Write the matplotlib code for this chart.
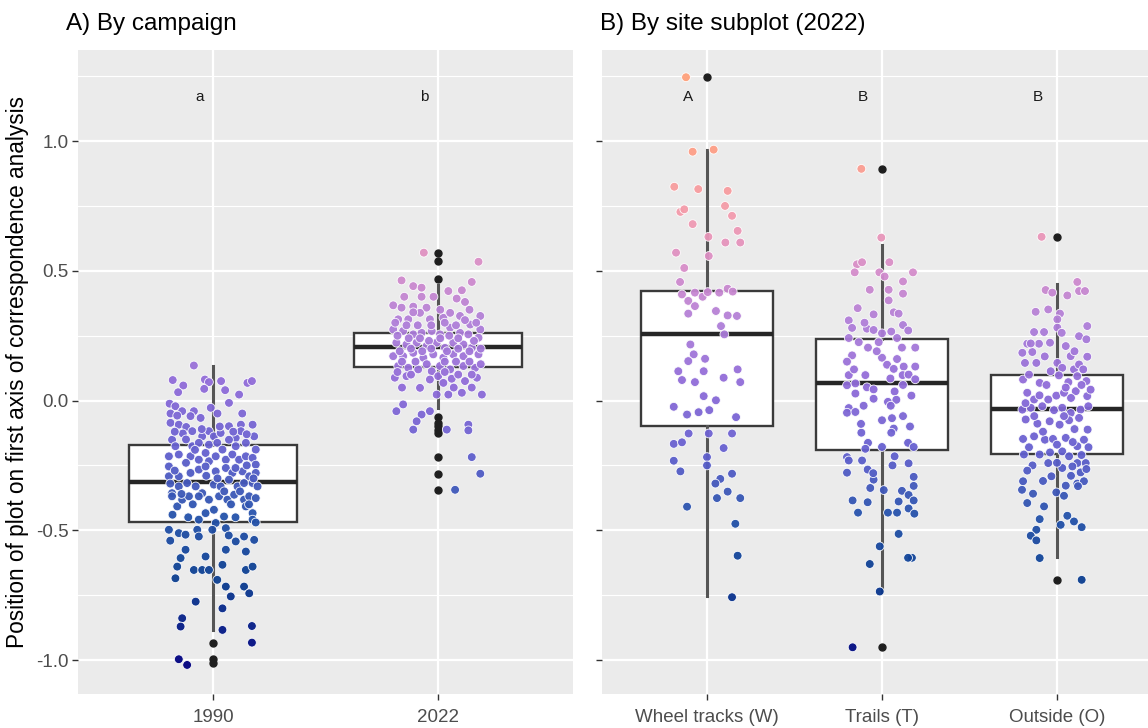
import numpy as np
import matplotlib.pyplot as plt
from matplotlib.colors import LinearSegmentedColormap, Normalize

plt.rcParams['font.family'] = ['Liberation Sans', 'DejaVu Sans']

# ---- values ----
campaigns = ['1990', '2022']
campaign_letters = ['a', 'b']
sites = ['Wheel tracks (W)', 'Trails (T)', 'Outside (O)']
site_letters = ['A', 'B', 'B']

# box statistics
campaign_q1 = [-0.469, 0.131]
campaign_med = [-0.315, 0.208]
campaign_q3 = [-0.173, 0.262]
campaign_whislo = [-0.884, -0.03]
campaign_whishi = [0.133, 0.445]
campaign_outliers = [[-0.933, -0.995, -1.013],
                     [0.570, 0.537, 0.468, -0.062, -0.085, -0.100, -0.115,
                      -0.127, -0.218, -0.282, -0.344]]

site_q1 = [-0.099, -0.191, -0.205]
site_med = [0.255, 0.066, -0.032]
site_q3 = [0.422, 0.239, 0.100]
site_whislo = [-0.755, -0.736, -0.604]
site_whishi = [0.967, 0.601, 0.448]
site_outliers = [[1.246], [0.893, -0.951], [0.631, -0.691]]

# plot scores (CA axis 1) and their jitter offsets, per group
val_1990 = [0.135, 0.079, 0.058, 0.032, 0.081, 0.071, 0.075, 0.045, 0.040, -0.009,
            0.023, 0.068, 0.075, -0.012, -0.022, -0.041, -0.050, -0.058, -0.086, -0.093,
            -0.102, -0.041, -0.067, -0.028, -0.127, -0.118, -0.138, -0.118, -0.138, -0.125,
            -0.099, -0.144, -0.093, -0.118, -0.093, -0.138, -0.151, -0.176, -0.176, -0.163,
            -0.170, -0.163, -0.151, -0.176, -0.163, -0.189, -0.215, -0.254, -0.208, -0.215,
            -0.228, -0.202, -0.234, -0.215, -0.189, -0.228, -0.208, -0.228, -0.215, -0.221,
            -0.247, -0.292, -0.292, -0.279, -0.266, -0.254, -0.273, -0.260, -0.279, -0.273,
            -0.292, -0.279, -0.357, -0.331, -0.318, -0.331, -0.357, -0.324, -0.331, -0.305,
            -0.331, -0.318, -0.318, -0.331, -0.369, -0.408, -0.382, -0.369, -0.369, -0.382,
            -0.369, -0.382, -0.363, -0.382, -0.369, -0.376, -0.434, -0.421, -0.447, -0.472,
            -0.459, -0.408, -0.434, -0.459, -0.498, -0.511, -0.517, -0.498, -0.524, -0.498,
            -0.492, -0.543, -0.524, -0.537, -0.575, -0.575, -0.582, -0.607, -0.601, -0.640,
            -0.653, -0.653, -0.653, -0.633, -0.653, -0.640, -0.685, -0.691, -0.717, -0.717,
            -0.743, -0.775, -0.755, -0.801, -0.839, -0.871, -0.884, -0.869, -0.933, -0.997,
            -1.019,
            -0.27, -0.24, -0.19, -0.29, -0.30, -0.35, -0.26, -0.25, -0.30, -0.32,
            -0.36, -0.40, -0.40, -0.35, -0.40, -0.15, -0.11, -0.10, -0.12, -0.13,
            -0.12, -0.06, -0.05, -0.05, -0.44, -0.45, -0.45, -0.54, -0.52, -0.47]
jit_1990 = [-0.085, -0.179, -0.132, -0.155, -0.036, -0.018, 0.036, -0.039, 0.054, 0.071,
            0.116, 0.153, 0.173, -0.193, -0.167, -0.137, -0.189, -0.159, -0.189, -0.152,
            -0.119, -0.085, -0.055, -0.010, -0.134, -0.092, -0.048, -0.018, 0.004, 0.034,
            0.071, 0.101, 0.124, 0.124, 0.176, 0.183, -0.182, -0.167, -0.092, -0.063,
            -0.018, 0.019, 0.071, 0.101, 0.146, 0.190, -0.196, -0.196, -0.152, -0.100,
            -0.063, -0.033, -0.018, 0.012, 0.042, 0.057, 0.086, 0.116, 0.146, 0.176,
            0.190, -0.196, -0.152, -0.100, -0.063, -0.033, 0.012, 0.057, 0.086, 0.131,
            0.161, 0.190, -0.182, -0.152, -0.115, -0.077, -0.048, 0.004, 0.034, 0.071,
            0.109, 0.138, 0.176, 0.198, -0.182, -0.159, -0.137, -0.107, -0.063, -0.018,
            0.027, 0.064, 0.094, 0.138, 0.161, 0.190, -0.033, 0.004, 0.049, 0.012,
            -0.063, 0.146, 0.176, 0.176, -0.196, -0.152, -0.122, -0.070, -0.063, -0.003,
            0.057, 0.101, 0.138, 0.183, -0.122, 0.057, 0.146, -0.144, -0.033, -0.159,
            -0.085, -0.048, -0.018, 0.042, 0.146, 0.176, -0.167, 0.019, 0.057, 0.138,
            0.161, -0.077, 0.079, 0.042, -0.137, -0.144, 0.042, 0.173, 0.173, -0.152,
            -0.115,
            -0.17, -0.12, -0.08, -0.03, 0.02, 0.05, 0.10, 0.15, 0.18, -0.19,
            -0.14, -0.09, 0.08, 0.12, 0.16, -0.12, -0.05, 0.03, 0.09, 0.15,
            -0.17, -0.10, 0.02, 0.13, -0.18, -0.11, 0.10, -0.19, 0.07, 0.19]

val_2022 = [0.570, 0.535, 0.463, 0.457, 0.441, 0.435, 0.422, 0.425, 0.393, 0.400,
            0.367, 0.358, 0.362, 0.358, 0.319, 0.338, 0.326, 0.326, 0.313, 0.313,
            0.338, 0.313, 0.293, 0.274, 0.274, 0.268, 0.255, 0.261, 0.268, 0.255,
            0.281, 0.261, 0.255, 0.242, 0.223, 0.216, 0.223, 0.210, 0.223, 0.203,
            0.223, 0.216, 0.203, 0.171, 0.171, 0.184, 0.165, 0.178, 0.165, 0.178,
            0.171, 0.178, 0.133, 0.126, 0.120, 0.113, 0.133, 0.120, 0.133, 0.126,
            0.088, 0.094, 0.081, 0.094, 0.084, 0.075, 0.088, 0.049, 0.068, 0.023,
            0.023, 0.030, 0.023, -0.015, -0.041, -0.041, -0.054, -0.080, -0.112, -0.112,
            -0.093, -0.115, -0.218, -0.282, -0.344,
            0.25, 0.24, 0.24, 0.23, 0.24, 0.25, 0.24, 0.23, 0.19, 0.20,
            0.19, 0.20, 0.19, 0.20, 0.19, 0.20, 0.15, 0.15, 0.14, 0.15,
            0.15, 0.15, 0.14, 0.30, 0.29, 0.29, 0.29, 0.30, 0.29, 0.31,
            0.30, 0.11, 0.10, 0.11, 0.10, 0.10, 0.05, 0.05, 0.05, 0.34,
            0.35, 0.35, 0.40, 0.38, 0.40]
jit_2022 = [-0.063, 0.180, -0.162, 0.150, -0.110, -0.073, 0.046, 0.106, 0.083, -0.073,
            -0.199, -0.162, -0.110, -0.051, 0.024, 0.054, 0.098, 0.188, -0.177, -0.132,
            -0.080, -0.036, 0.143, 0.188, -0.199, -0.155, -0.110, -0.073, -0.028, 0.009,
            0.054, 0.098, 0.135, 0.180, -0.185, -0.140, -0.095, -0.051, -0.006, 0.031,
            0.068, 0.113, 0.150, -0.199, -0.155, -0.110, -0.065, -0.021, 0.024, 0.068,
            0.113, 0.180, -0.177, -0.132, -0.088, -0.028, 0.009, 0.054, 0.113, 0.165,
            -0.192, -0.140, -0.036, 0.001, 0.061, 0.120, 0.173, -0.080, 0.024, -0.006,
            0.046, 0.106, 0.195, -0.155, -0.185, -0.036, -0.073, -0.095, -0.110, 0.039,
            0.135, 0.135, 0.150, 0.188, 0.076,
            -0.18, -0.13, -0.08, -0.04, 0.01, 0.05, 0.09, 0.16, -0.17, -0.12,
            -0.07, -0.03, 0.04, 0.09, 0.14, 0.19, -0.16, -0.10, -0.05, 0.03,
            0.08, 0.14, 0.19, -0.19, -0.14, -0.09, -0.03, 0.03, 0.08, 0.12,
            0.17, -0.18, -0.12, 0.03, 0.09, 0.15, -0.16, 0.07, 0.15, -0.11,
            0.01, 0.14, -0.15, 0.12, -0.02]

val_W = [1.246, 0.959, 0.967, 0.824, 0.815, 0.808, 0.727, 0.737, 0.750, 0.712,
         0.680, 0.631, 0.654, 0.609, 0.609, 0.570, 0.557, 0.511, 0.457, 0.409,
         0.416, 0.400, 0.418, 0.416, 0.431, 0.420, 0.384, 0.364, 0.335, 0.345,
         0.328, 0.326, 0.287, 0.255, 0.216, 0.178, 0.152, 0.161, 0.113, 0.113,
         0.120, 0.079, 0.071, 0.088, 0.071, 0.017, 0.001, -0.024, -0.054, -0.045,
         -0.037, -0.064, -0.127, -0.127, -0.127, -0.167, -0.161, -0.183, -0.232, -0.218,
         -0.250, -0.273, -0.282, -0.302, -0.320, -0.351, -0.376, -0.376, -0.409, -0.475,
         -0.598, -0.758]
jit_W = [-0.120, -0.082, 0.038, -0.187, -0.050, 0.118, -0.152, -0.130, 0.103, 0.143,
         -0.082, 0.008, 0.175, 0.105, 0.190, -0.177, 0.010, -0.130, -0.154, -0.143,
         -0.069, -0.025, 0.004, 0.070, 0.118, 0.147, -0.107, -0.069, -0.107, 0.051,
         0.118, 0.171, 0.080, 0.099, -0.095, -0.076, -0.107, -0.011, -0.164, -0.019,
         0.175, -0.143, -0.069, 0.095, 0.190, -0.019, 0.051, -0.190, -0.114, -0.048,
         0.013, 0.166, -0.105, 0.010, 0.143, -0.190, -0.143, 0.095, -0.190, 0.000,
         0.000, -0.152, 0.143, 0.076, 0.048, 0.118, 0.057, 0.190, -0.114, 0.162,
         0.175, 0.143]

val_T = [0.893, 0.628, 0.525, 0.533, 0.494, 0.494, 0.533, 0.478, 0.494, 0.427,
         0.427, 0.459, 0.386, 0.412, 0.356, 0.332, 0.340, 0.335, 0.309, 0.280,
         0.277, 0.272, 0.259, 0.266, 0.291, 0.241, 0.225, 0.204, 0.225, 0.241,
         0.204, 0.204, 0.174, 0.150, 0.165, 0.160, 0.138, 0.122, 0.131, 0.131,
         0.098, 0.098, 0.085, 0.098, 0.100, 0.082, 0.059, 0.066, 0.051, 0.043,
         0.035, 0.027, 0.019, 0.007, -0.005, 0.003, -0.020, -0.029, -0.047, -0.044,
         -0.076, -0.068, -0.060, -0.108, -0.124, -0.124, -0.163, -0.186, -0.179, -0.215,
         -0.163, -0.179, -0.218, -0.231, -0.231, -0.242, -0.278, -0.266, -0.294, -0.305,
         -0.329, -0.337, -0.345, -0.348, -0.364, -0.385, -0.392, -0.389, -0.385, -0.432,
         -0.432, -0.432, -0.416, -0.436, -0.514, -0.562, -0.606, -0.606, -0.630, -0.736,
         -0.951,
         0.30, 0.27, 0.19, 0.06, 0.12, -0.02, -0.09, -0.10, -0.28, -0.25]
jit_T = [-0.118, -0.004, -0.143, -0.114, -0.156, -0.015, 0.042, 0.015, 0.177, -0.070,
         0.038, 0.120, 0.038, 0.120, -0.139, -0.048, 0.067, 0.095, -0.190, -0.171,
         -0.086, -0.048, 0.000, 0.053, 0.120, -0.190, -0.133, -0.080, -0.019, 0.086,
         0.114, 0.190, -0.171, -0.200, 0.000, 0.086, 0.029, 0.067, 0.124, 0.190,
         -0.190, -0.095, 0.048, 0.118, 0.152, 0.190, -0.200, -0.152, -0.086, -0.048,
         0.072, -0.152, 0.168, -0.048, 0.034, 0.082, -0.105, -0.190, -0.200, -0.152,
         0.000, 0.057, 0.120, 0.067, 0.053, -0.118, -0.080, -0.095, 0.000, 0.072,
         0.149, 0.181, -0.200, -0.190, -0.114, 0.152, -0.200, -0.082, 0.181, -0.048,
         0.181, -0.067, 0.010, 0.114, 0.152, -0.168, -0.082, 0.095, 0.181, -0.137,
         0.034, 0.086, 0.152, 0.185, 0.095, -0.013, 0.171, 0.149, -0.070, -0.013,
         -0.168,
         -0.10, 0.15, -0.03, 0.12, -0.16, 0.05, -0.12, 0.16, -0.05, 0.06]

val_O = [0.631, 0.457, 0.426, 0.416, 0.405, 0.422, 0.422, 0.342, 0.351, 0.335,
         0.313, 0.287, 0.264, 0.264, 0.281, 0.261, 0.248, 0.236, 0.219, 0.219,
         0.223, 0.184, 0.187, 0.145, 0.145, 0.171, 0.169, 0.145, 0.113, 0.126,
         0.120, 0.139, 0.081, 0.068, 0.097, 0.071, 0.094, 0.075, 0.030, 0.004,
         0.004, 0.019, 0.030, 0.036, 0.017, 0.042, -0.035, -0.028, -0.022, -0.037,
         -0.028, -0.048, -0.035, -0.022, -0.073, -0.089, -0.080, -0.093, -0.076, -0.067,
         -0.112, -0.148, -0.138, -0.151, -0.148, -0.144, -0.176, -0.151, -0.208, -0.208,
         -0.241, -0.196, -0.215, -0.241, -0.241, -0.292, -0.260, -0.254, -0.277, -0.264,
         -0.311, -0.344, -0.359, -0.354, -0.328, -0.367, -0.320, -0.311, -0.395, -0.408,
         -0.457, -0.479, -0.444, -0.466, -0.488, -0.498, -0.521, -0.539, -0.607, -0.691,
         0.22, 0.21, 0.19, 0.17, 0.12, 0.10, 0.06, 0.05, 0.06, 0.02,
         0.01, -0.01, -0.06, -0.06, -0.11, -0.12, -0.17, -0.16, -0.18, -0.20,
         -0.21, -0.25, -0.29, -0.31, -0.33, -0.27, -0.24, -0.18]
jit_O = [-0.088, 0.116, -0.065, -0.027, 0.059, 0.126, 0.160, -0.122, -0.050, 0.017,
         0.002, 0.173, -0.131, -0.074, 0.002, 0.027, 0.126, 0.168, -0.170, -0.103,
         -0.040, -0.198, -0.141, -0.183, -0.118, 0.078, 0.173, 0.002, -0.036, 0.030,
         0.097, 0.126, -0.194, -0.099, 0.011, 0.065, 0.116, 0.168, -0.170, -0.131,
         -0.050, -0.004, 0.040, 0.107, 0.173, 0.192, -0.198, -0.150, -0.084, -0.017,
         0.030, 0.078, 0.135, 0.179, -0.179, -0.112, -0.042, 0.015, 0.069, 0.126,
         0.175, -0.194, -0.131, -0.069, -0.023, 0.050, 0.116, 0.154, -0.189, -0.099,
         -0.050, 0.030, 0.069, 0.116, 0.164, -0.032, 0.030, 0.088, 0.135, 0.168,
         -0.194, -0.200, -0.137, -0.004, 0.050, 0.040, 0.116, 0.154, -0.170, -0.074,
         -0.099, 0.021, 0.059, 0.097, 0.141, -0.118, -0.150, -0.118, -0.099, 0.141,
         -0.15, 0.05, 0.10, -0.07, 0.15, -0.16, -0.06, 0.05, 0.14, -0.10,
         0.08, -0.18, -0.13, 0.04, 0.10, -0.08, 0.00, 0.09, -0.16, -0.04,
         0.14, -0.14, 0.08, -0.08, 0.12, -0.17, 0.00, 0.18]

# colour gradient used for the points (value -> colour)
grad_vals = [-1.02, -0.7, -0.45, -0.2, 0.05, 0.3, 0.5, 0.7, 1.0, 1.25]
grad_cols = ['#00007f', '#0a3d8f', '#2452aa', '#6460cf', '#8e6ad8',
             '#b07fd8', '#d58ccb', '#f29bb0', '#ff9e82', '#ffa07a']

vmin, vmax = grad_vals[0], grad_vals[-1]
cmap = LinearSegmentedColormap.from_list(
    'ca', [((v - vmin) / (vmax - vmin), c) for v, c in zip(grad_vals, grad_cols)])
norm = Normalize(vmin, vmax)

YLIM = (-1.131, 1.351)


def draw_panel(ax, labels, q1, med, q3, lo, hi, outl, vals, jits, letters, nudge):
    pos = np.arange(1, len(labels) + 1)
    stats = []
    for i in range(len(labels)):
        stats.append(dict(q1=q1[i], med=med[i], q3=q3[i], whislo=lo[i],
                          whishi=hi[i], fliers=outl[i]))
    ax.bxp(stats, positions=pos, widths=0.75, patch_artist=True, showcaps=False,
           boxprops=dict(facecolor='white', edgecolor='#3a3a3a', linewidth=1.7),
           medianprops=dict(color='#262626', linewidth=3.2),
           whiskerprops=dict(color='#555555', linewidth=2.2),
           flierprops=dict(marker='o', markerfacecolor='#1f1f1f',
                           markeredgecolor='#1f1f1f', markersize=5))
    for i in range(len(labels)):
        v = np.array(vals[i])
        ax.scatter(pos[i] + np.array(jits[i]), v, c=v, cmap=cmap, norm=norm,
                   s=40, edgecolors='white', linewidths=0.6, alpha=0.95, zorder=3)
        ax.text(pos[i] + nudge, 1.17, letters[i], ha='center', va='center',
                fontsize=11, color='#1a1a1a')

    ax.set_facecolor('#EBEBEB')
    ax.set_xlim(0.4, len(labels) + 0.6)
    ax.set_ylim(*YLIM)
    ax.set_xticks(pos)
    ax.set_xticklabels(labels)
    ax.set_yticks([-1.0, -0.5, 0.0, 0.5, 1.0])
    ax.set_yticks([-0.75, -0.25, 0.25, 0.75, 1.25], minor=True)
    ax.grid(True, which='major', color='white', linewidth=1.6)
    ax.grid(True, which='minor', axis='y', color='white', linewidth=0.8)
    ax.set_axisbelow(True)
    for s in ax.spines.values():
        s.set_visible(False)
    ax.tick_params(which='major', length=4, width=1, color='#333333',
                   labelsize=13.5, labelcolor='#4D4D4D', pad=3)
    ax.tick_params(which='minor', length=0)


fig = plt.figure(figsize=(11.48, 7.28), dpi=100)
ax1 = fig.add_axes([78 / 1148, 1 - 694 / 728, 495 / 1148, 644 / 728])
ax2 = fig.add_axes([602 / 1148, 1 - 694 / 728, 560 / 1148, 644 / 728])

draw_panel(ax1, campaigns, campaign_q1, campaign_med, campaign_q3,
           campaign_whislo, campaign_whishi, campaign_outliers,
           [val_1990, val_2022], [jit_1990, jit_2022], campaign_letters, -0.06)
draw_panel(ax2, sites, site_q1, site_med, site_q3, site_whislo, site_whishi,
           site_outliers, [val_W, val_T, val_O], [jit_W, jit_T, jit_O],
           site_letters, -0.11)
ax1.set_yticklabels(['-1.0', '-0.5', '0.0', '0.5', '1.0'])
ax2.set_yticklabels([])
ax1.tick_params(axis='x', pad=7)
ax2.tick_params(axis='x', pad=7)

fig.text(66 / 1148, 1 - 24 / 728, 'A) By campaign', fontsize=17.5, va='center', ha='left')
fig.text(600 / 1148, 1 - 24 / 728, 'B) By site subplot (2022)', fontsize=17.5,
         va='center', ha='left')
fig.text(18 / 1148, 1 - 372 / 728,
         'Position of plot on first axis of correspondence analysis',
         rotation=90, fontsize=16.3, va='center', ha='center')

fig.savefig('out.png', dpi=100)
